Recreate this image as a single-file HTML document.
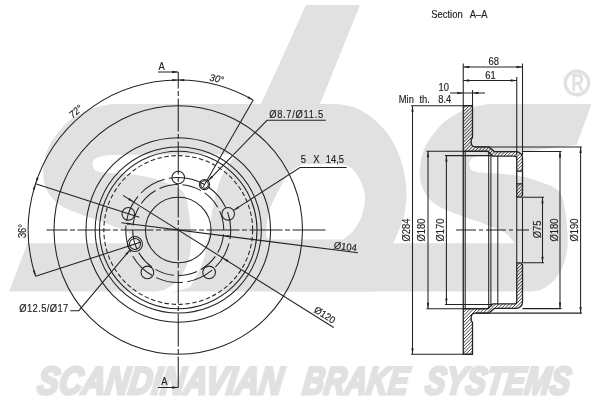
<!DOCTYPE html>
<html lang="en"><head><meta charset="utf-8"><title>Brake disc drawing</title>
<style>html,body{margin:0;padding:0;background:#fff}body{width:600px;height:400px;overflow:hidden}svg{display:block;filter:grayscale(1)}</style>
</head><body>
<svg width="600" height="400" viewBox="0 0 600 400">
<rect width="600" height="400" fill="#fff"/>
<g fill="#e1e1e1" stroke="none">
<path d="M112 104L272 104L246 154L108 155C106 155.5 98.58 156.42 96 158C93.42 159.58 92.42 162.33 92.5 164.5C92.58 166.67 93.58 169.58 96.5 171C99.42 172.42 105.25 172.53 110 173C114.75 173.47 118.33 173.05 125 173.8C131.67 174.55 142.83 175.88 150 177.5C157.17 179.12 163 181.58 168 183.5C173 185.42 177 186.58 180 189C183 191.42 184.5 194 186 198C187.5 202 188.2 207.67 189 213C189.8 218.33 190.5 224.17 190.8 230C191.1 235.83 191.43 242.17 190.8 248C190.17 253.83 189.13 259.67 187 265C184.87 270.33 181.5 276 178 280C174.5 284 169.83 287.08 166 289C162.17 290.92 156.83 291.08 155 291.5L9 291.5L27.5 243.3L138 243.3C136.33 241.5 133.08 235.76 128 232.5C122.92 229.24 115.08 226.67 107.5 223.75C99.92 220.83 90.42 218.12 82.5 215C74.58 211.88 65.67 208.67 60 205C54.33 201.33 51.25 197.5 48.5 193C45.75 188.5 44.17 183.5 43.5 178C42.83 172.5 43.58 165.33 44.5 160C45.42 154.67 47.17 150 49 146C50.83 142 52.58 139.83 55.5 136C58.42 132.17 62.58 126.62 66.5 123C70.42 119.38 74.58 116.77 79 114.3C83.42 111.83 87.5 109.92 93 108.2C98.5 106.48 108.83 104.7 112 104Z"/>
<path d="M488.5 104L591.5 104L576.5 145C570.67 145.75 554 148 541.5 149.5C529 151 511.33 153 501.5 154C491.67 155 485.67 155.25 482.5 155.5C480.83 155.92 474.75 156.5 472.5 158C470.25 159.5 468.92 162.33 469 164.5C469.08 166.67 470.08 169.58 473 171C475.92 172.42 481.75 172.53 486.5 173C491.25 173.47 494.83 173.05 501.5 173.8C508.17 174.55 519.33 175.88 526.5 177.5C533.67 179.12 539.5 181.58 544.5 183.5C549.5 185.42 553.5 186.58 556.5 189C559.5 191.42 561 194 562.5 198C564 202 564.7 207.67 565.5 213C566.3 218.33 567 224.17 567.3 230C567.6 235.83 567.93 242.17 567.3 248C566.67 253.83 565.63 259.67 563.5 265C561.37 270.33 558 276 554.5 280C551 284 546.33 287.08 542.5 289C538.67 290.92 533.33 291.08 531.5 291.5L276.5 291.5L276.5 243.3L514.5 243.3C512.83 241.5 509.58 235.76 504.5 232.5C499.42 229.24 491.58 226.67 484 223.75C476.42 220.83 466.92 218.12 459 215C451.08 211.88 442.17 208.67 436.5 205C430.83 201.33 427.75 197.5 425 193C422.25 188.5 420.67 183.5 420 178C419.33 172.5 420.08 165.33 421 160C421.92 154.67 423.67 150 425.5 146C427.33 142 429.08 139.83 432 136C434.92 132.17 439.08 126.62 443 123C446.92 119.38 451.08 116.77 455.5 114.3C459.92 111.83 464 109.92 469.5 108.2C475 106.48 485.33 104.7 488.5 104Z"/>
<path fill-rule="evenodd" d="M306 5L360 5L320 104L337 104C339.67 104.5 348.17 105.42 353 107C357.83 108.58 361.83 110.83 366 113.5C370.17 116.17 374 119.08 378 123C382 126.92 386.5 131.67 390 137C393.5 142.33 396.67 149.17 399 155C401.33 160.83 402.75 165.83 404 172C405.25 178.17 406.42 185.17 406.5 192C406.58 198.83 405.75 206.67 404.5 213C403.25 219.33 401.25 224.33 399 230C396.75 235.67 394.17 241.67 391 247C387.83 252.33 383.17 257.33 380 262C376.83 266.67 373.33 270.08 372 275C370.67 279.92 372 288.75 372 291.5L172 291.5C174 291.08 180.67 290.25 184 289C187.33 287.75 188.67 289.17 192 284C195.33 278.83 201.17 266.67 204 258C206.83 249.33 207.67 239.67 209 232C210.33 224.33 210.92 218.17 212 212C213.08 205.83 214 200.67 215.5 195C217 189.33 218.75 183.17 221 178C223.25 172.83 226.33 168.17 229 164C231.67 159.83 235.67 154.83 237 153C241 144.83 249.5 128.67 261 104C272.5 79.33 298.5 21.5 306 5Z M303 164L342 164C343.83 164.92 349.83 166.5 353 169.5C356.17 172.5 359 177.42 361 182C363 186.58 364.83 191.5 365 197C365.17 202.5 363.83 209.5 362 215C360.17 220.5 357.17 225.92 354 230C350.83 234.08 344.83 237.92 343 239.5L268 239.5C267.67 238.08 265.67 236.08 266 231C266.33 225.92 267.5 216.5 270 209C272.5 201.5 277.5 192.25 281 186C284.5 179.75 287.33 175.17 291 171.5C294.67 167.83 301 165.25 303 164Z"/>
</g>
<circle cx="577" cy="83" r="11.8" fill="none" stroke="#e1e1e1" stroke-width="3.4"/>
<text x="571.2" y="90.8" font-family="'Liberation Sans',sans-serif" font-weight="bold" font-size="24.5" textLength="12.6" lengthAdjust="spacingAndGlyphs" fill="#e1e1e1" opacity="0.999">R</text>
<g font-family="'Liberation Sans',sans-serif" font-weight="bold" font-style="italic" font-size="38.8" fill="#e1e1e1" stroke="#e1e1e1" stroke-width="2.8" stroke-linejoin="miter" opacity="0.999" transform="translate(0 395) skewX(-8) translate(0 -395)">
<text x="36" y="394.2" textLength="245" lengthAdjust="spacingAndGlyphs">SCANDINAVIAN</text>
<text x="301.5" y="394.2" textLength="105" lengthAdjust="spacingAndGlyphs">BRAKE</text>
<text x="424" y="394.2" textLength="145" lengthAdjust="spacingAndGlyphs">SYSTEMS</text>
</g>
<g fill="none" stroke="#222222" stroke-width="1.05">
<circle cx="178.25" cy="230" r="124.25"/>
<circle cx="178.25" cy="230" r="92.3"/>
<circle cx="178.25" cy="230" r="83.1"/>
<circle cx="178.25" cy="230" r="78.75"/>
<circle cx="178.25" cy="230" r="32.8"/>
<circle cx="178.25" cy="230" r="74.4" stroke-dasharray="4.5 2.5"/>
<circle cx="178.25" cy="230" r="52.5" stroke-dasharray="27.5 4.5" stroke-dashoffset="0" transform="rotate(-90 178.25 230)"/>
<circle cx="178.25" cy="230" r="45.5" stroke-dasharray="19.5 4.3" stroke-dashoffset="-4.3" transform="rotate(-90 178.25 230)"/>
<circle cx="178.25" cy="177.5" r="6.35"/>
<circle cx="228.18" cy="213.78" r="6.35"/>
<circle cx="209.11" cy="272.47" r="6.35"/>
<circle cx="147.39" cy="272.47" r="6.35"/>
<circle cx="128.32" cy="213.78" r="6.35"/>
<circle cx="204.5" cy="184.53" r="3.8"/><circle cx="204.5" cy="184.53" r="5.1"/>
<circle cx="134.98" cy="244.06" r="5.5"/><circle cx="134.98" cy="244.06" r="7.5"/>
<path d="M178.25 72V387.5" stroke-dasharray="33 2.5 5 2.5" stroke-dashoffset="16.5"/>
<path d="M46.5 230H325.5" stroke-dasharray="33 2.5 5 2.5" stroke-dashoffset="12"/>
<path d="M158 72H178.25 M158 387.5H178.25"/>
<path d="M139.26 217.33L35.59 183.65"/>
<path d="M141.16 242.05L35.59 276.35"/>
<path d="M203.25 186.7L253.25 100.1"/>
<path d="M121.4 222.8L358 252.8"/>
<path d="M123 195.4L333.7 327.5"/>
<path d="M253.25 100.1A150 150 0 0 0 35.59 276.35"/>
<path d="M325.8 120.3H267L208.1 180.83"/>
<path d="M346.7 167.5H300L233.58 210.38"/>
<path d="M70.2 310.7H78.8L130.08 249.76"/>
</g>
<g fill="#222222" stroke="none">
<path d="M178.25 72L172.25 73.15L172.25 70.85Z"/>
<path d="M178.25 387.5L172.25 388.65L172.25 386.35Z"/>
<path d="M253.25 100.1L247.44 98.2L248.55 96.19Z"/>
<path d="M178.25 80L184.27 78.97L184.23 81.26Z"/>
<path d="M178.25 80L172.27 81.26L172.23 78.97Z"/>
<path d="M35.59 183.65L36.47 177.6L38.64 178.35Z"/>
<path d="M35.59 183.65L34.95 189.72L32.75 189.05Z"/>
<path d="M35.59 276.35L32.75 270.95L34.95 270.28Z"/>
<path d="M208.1 180.83L211.46 175.73L213.11 177.34Z"/>
<path d="M233.58 210.38L238 206.16L239.25 208.09Z"/>
<path d="M130.08 249.76L127.09 255.09L125.33 253.61Z"/>
<path d="M223.39 235.73L229.49 235.34L229.2 237.62Z"/><path d="M133.11 224.27L127.01 224.66L127.3 222.38Z"/>
<path d="M222.73 257.9L228.42 260.11L227.2 262.06Z"/><path d="M133.77 202.1L128.08 199.89L129.3 197.94Z"/>
</g>
<defs>
<clipPath id="ct"><path clip-rule="evenodd" d="M463.25 105.75L472.5 105.75L472.5 137.5L471.2 139.5L471.2 143Q471.5 146.9 475.8 146.9L488.8 146.9L494.3 151.6L516.2 151.6A6.3 6.3 0 0 1 522.5 157.9L522.5 195.2L521 197.2L516.75 197.2L516.75 158.3A2.2 2.2 0 0 0 514.55 156.1L492.8 156.1L487.6 151.25L463.25 151.25Z M516.75 171.15H522.5V183.85H516.75Z"/></clipPath>
<clipPath id="cb"><path d="M463.25 354.25L472.5 354.25L472.5 322.5L471.2 320.5L471.2 317Q471.5 313.1 475.8 313.1L488.8 313.1L494.3 308.4L516.2 308.4A6.3 6.3 0 0 0 522.5 302.1L522.5 264.8L521 262.8L516.75 262.8L516.75 301.7A2.2 2.2 0 0 1 514.55 303.9L492.8 303.9L487.6 308.75L463.25 308.75Z"/></clipPath>
</defs>
<g clip-path="url(#ct)" stroke="#222222" stroke-width="0.85" fill="none"><path d="M460 98L526 32M460 101.4L526 35.4M460 104.8L526 38.8M460 108.2L526 42.2M460 111.6L526 45.6M460 115L526 49M460 118.4L526 52.4M460 121.8L526 55.8M460 125.2L526 59.2M460 128.6L526 62.6M460 132L526 66M460 135.4L526 69.4M460 138.8L526 72.8M460 142.2L526 76.2M460 145.6L526 79.6M460 149L526 83M460 152.4L526 86.4M460 155.8L526 89.8M460 159.2L526 93.2M460 162.6L526 96.6M460 166L526 100M460 169.4L526 103.4M460 172.8L526 106.8M460 176.2L526 110.2M460 179.6L526 113.6M460 183L526 117M460 186.4L526 120.4M460 189.8L526 123.8M460 193.2L526 127.2M460 196.6L526 130.6M460 200L526 134M460 203.4L526 137.4M460 206.8L526 140.8M460 210.2L526 144.2M460 213.6L526 147.6M460 217L526 151M460 220.4L526 154.4M460 223.8L526 157.8M460 227.2L526 161.2M460 230.6L526 164.6M460 234L526 168M460 237.4L526 171.4M460 240.8L526 174.8M460 244.2L526 178.2M460 247.6L526 181.6M460 251L526 185M460 254.4L526 188.4M460 257.8L526 191.8M460 261.2L526 195.2M460 264.6L526 198.6"/></g>
<g clip-path="url(#cb)" stroke="#222222" stroke-width="0.85" fill="none"><path d="M460 258L526 192M460 261.4L526 195.4M460 264.8L526 198.8M460 268.2L526 202.2M460 271.6L526 205.6M460 275L526 209M460 278.4L526 212.4M460 281.8L526 215.8M460 285.2L526 219.2M460 288.6L526 222.6M460 292L526 226M460 295.4L526 229.4M460 298.8L526 232.8M460 302.2L526 236.2M460 305.6L526 239.6M460 309L526 243M460 312.4L526 246.4M460 315.8L526 249.8M460 319.2L526 253.2M460 322.6L526 256.6M460 326L526 260M460 329.4L526 263.4M460 332.8L526 266.8M460 336.2L526 270.2M460 339.6L526 273.6M460 343L526 277M460 346.4L526 280.4M460 349.8L526 283.8M460 353.2L526 287.2M460 356.6L526 290.6M460 360L526 294M460 363.4L526 297.4M460 366.8L526 300.8M460 370.2L526 304.2M460 373.6L526 307.6M460 377L526 311M460 380.4L526 314.4M460 383.8L526 317.8M460 387.2L526 321.2M460 390.6L526 324.6M460 394L526 328M460 397.4L526 331.4M460 400.8L526 334.8M460 404.2L526 338.2M460 407.6L526 341.6M460 411L526 345M460 414.4L526 348.4M460 417.8L526 351.8M460 421.2L526 355.2M460 424.6L526 358.6M460 428L526 362"/></g>
<g fill="none" stroke="#222222" stroke-width="1.3">
<path d="M463.25 105.75L472.5 105.75L472.5 137.5L471.2 139.5L471.2 143Q471.5 146.9 475.8 146.9L488.8 146.9L494.3 151.6L516.2 151.6A6.3 6.3 0 0 1 522.5 157.9L522.5 195.2L521 197.2L516.75 197.2L516.75 158.3A2.2 2.2 0 0 0 514.55 156.1L492.8 156.1L487.6 151.25L463.25 151.25Z"/>
<path d="M463.25 354.25L472.5 354.25L472.5 322.5L471.2 320.5L471.2 317Q471.5 313.1 475.8 313.1L488.8 313.1L494.3 308.4L516.2 308.4A6.3 6.3 0 0 0 522.5 302.1L522.5 264.8L521 262.8L516.75 262.8L516.75 301.7A2.2 2.2 0 0 1 514.55 303.9L492.8 303.9L487.6 308.75L463.25 308.75Z"/>
<path d="M516.75 171.15H522.5 M516.75 183.85H522.5"/>
<path d="M463.25 151.25V308.75"/>
</g>
<g fill="none" stroke="#222222" stroke-width="1.05">
<path d="M465.2 151.25V308.75"/>
<path d="M488.7 151.25V308.75"/>
<path d="M490.9 155.6V304.4"/>
<path d="M497.8 155.6V304.4"/>
<path d="M516.75 197.2V262.8 M522.5 197.2V262.8"/>
<path d="M456 230H529" stroke-dasharray="20 3 4 3"/>
<path d="M463.25 63.5V105.75 M522.5 63.5V155.5 M516.75 77V155.6"/>
<path d="M463.25 67H522.5 M463.25 80.5H516.75"/>
<path d="M472.5 90V105.75 M450 93H485"/>
<path d="M412.5 105.75V354.25 M411 105.75H463.25 M411 354.25H463.25"/>
<path d="M428 151.25V308.75 M426.5 151.25H463.25 M426.5 308.75H463.25"/>
<path d="M446.4 155.6V304.4 M445 155.6H492.5 M445 304.4H492.5"/>
<path d="M542.5 197.2V262.8 M522.5 197.2H544 M522.5 262.8H544"/>
<path d="M560 151.4V308.6 M522.5 151.4H561.5 M522.5 308.6H561.5"/>
<path d="M580.6 146.9V313.1 M475.5 146.9H582 M475.5 313.1H582"/>
</g>
<g fill="#222222" stroke="none">
<path d="M412.5 105.75L413.65 111.75L411.35 111.75Z"/>
<path d="M412.5 354.25L411.35 348.25L413.65 348.25Z"/>
<path d="M428 151.25L429.15 157.25L426.85 157.25Z"/>
<path d="M428 308.75L426.85 302.75L429.15 302.75Z"/>
<path d="M446.4 155.6L447.55 161.6L445.25 161.6Z"/>
<path d="M446.4 304.4L445.25 298.4L447.55 298.4Z"/>
<path d="M542.5 197.2L543.65 203.2L541.35 203.2Z"/>
<path d="M542.5 262.8L541.35 256.8L543.65 256.8Z"/>
<path d="M560 151.4L561.15 157.4L558.85 157.4Z"/>
<path d="M560 308.6L558.85 302.6L561.15 302.6Z"/>
<path d="M580.6 146.9L581.75 152.9L579.45 152.9Z"/>
<path d="M580.6 313.1L579.45 307.1L581.75 307.1Z"/>
<path d="M463.25 67L469.25 65.85L469.25 68.15Z"/>
<path d="M522.5 67L516.5 68.15L516.5 65.85Z"/>
<path d="M463.25 80.5L469.25 79.35L469.25 81.65Z"/>
<path d="M516.75 80.5L510.75 81.65L510.75 79.35Z"/>
<path d="M463.25 93L457.25 94.15L457.25 91.85Z"/>
<path d="M472.5 93L478.5 91.85L478.5 94.15Z"/>
</g>
<g font-family="'Liberation Sans',sans-serif" font-size="10" fill="#222222" stroke="#222222" stroke-width="0.15" opacity="0.999">
<text text-anchor="start" transform="translate(431.3 17.8) scale(0.94 1)">Section</text>
<text text-anchor="start" transform="translate(469.7 17.8) scale(0.94 1)">A–A</text>
<text text-anchor="middle" transform="translate(493.7 64.5) scale(0.94 1)">68</text>
<text text-anchor="middle" transform="translate(490.5 78.5) scale(0.94 1)">61</text>
<text text-anchor="middle" transform="translate(443.75 91) scale(0.94 1)">10</text>
<text text-anchor="start" transform="translate(398.75 103) scale(0.94 1)">Min</text>
<text text-anchor="start" transform="translate(419.5 103) scale(0.94 1)">th.</text>
<text text-anchor="end" transform="translate(451.25 103) scale(0.94 1)">8.4</text>
<text text-anchor="start" transform="translate(269.2 118) scale(0.94 1)" textLength="57.4" lengthAdjust="spacing">Ø8.7/Ø11.5</text>
<text text-anchor="start" transform="translate(300.8 162.8) scale(0.94 1)">5</text>
<text text-anchor="start" transform="translate(313.3 162.8) scale(0.94 1)">X</text>
<text text-anchor="start" transform="translate(325.8 162.8) scale(0.94 1)">14,5</text>
<text text-anchor="start" transform="translate(19.3 311.6) scale(0.94 1)" textLength="52.1" lengthAdjust="spacing">Ø12.5/Ø17</text>
<text text-anchor="start" transform="translate(158.5 70) scale(0.94 1)">A</text>
<text text-anchor="start" transform="translate(161.3 384.5) scale(0.94 1)">A</text>
<text text-anchor="middle" transform="translate(410 230) rotate(-90) scale(0.94 1)">Ø284</text>
<text text-anchor="middle" transform="translate(425.3 230) rotate(-90) scale(0.94 1)">Ø180</text>
<text text-anchor="middle" transform="translate(443.6 230) rotate(-90) scale(0.94 1)">Ø170</text>
<text text-anchor="middle" transform="translate(541 229.5) rotate(-90) scale(0.94 1)">Ø75</text>
<text text-anchor="middle" transform="translate(557.5 230) rotate(-90) scale(0.94 1)">Ø180</text>
<text text-anchor="middle" transform="translate(578 230) rotate(-90) scale(0.94 1)">Ø190</text>
<text text-anchor="middle" transform="translate(25.5 231) rotate(-90) scale(0.94 1)">36°</text>
<text text-anchor="middle" transform="translate(78 114) rotate(-41) scale(0.94 1)" font-style="italic">72°</text>
<text text-anchor="middle" transform="translate(216 82) rotate(13) scale(0.94 1)" font-style="italic">30°</text>
<text text-anchor="middle" transform="translate(345 250) rotate(7.2) scale(0.94 1)">Ø104</text>
<text text-anchor="middle" transform="translate(323 317.8) rotate(32.1) scale(0.94 1)">Ø120</text>
</g>
</svg>
</body></html>
